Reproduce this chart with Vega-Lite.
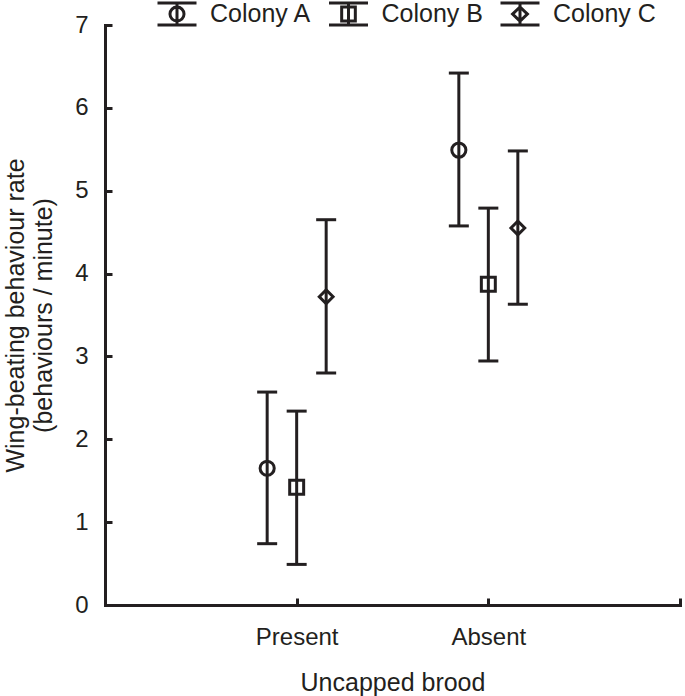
{
  "$schema": "https://vega.github.io/schema/vega-lite/v6.json",
  "width": 575,
  "height": 580,
  "autosize": {"type": "none"},
  "padding": {"left": 105, "top": 25, "right": 5, "bottom": 91},
  "background": "white",
  "data": {
    "values": [
      {"brood": "Present", "colony": "Colony A", "mean": 1.65, "lower": 0.74, "upper": 2.57},
      {"brood": "Present", "colony": "Colony B", "mean": 1.42, "lower": 0.49, "upper": 2.34},
      {"brood": "Present", "colony": "Colony C", "mean": 3.72, "lower": 2.80, "upper": 4.65},
      {"brood": "Absent", "colony": "Colony A", "mean": 5.49, "lower": 4.575, "upper": 6.42},
      {"brood": "Absent", "colony": "Colony B", "mean": 3.87, "lower": 2.945, "upper": 4.79},
      {"brood": "Absent", "colony": "Colony C", "mean": 4.55, "lower": 3.63, "upper": 5.48}
    ]
  },
  "encoding": {
    "x": {
      "field": "brood",
      "type": "nominal",
      "scale": {"type": "point", "domain": ["_s", "Present", "Absent", "_e"], "padding": 0},
      "title": "Uncapped brood",
      "axis": {
        "labelExpr": "datum.value[0] == '_' ? '' : datum.label",
        "labelAngle": 0,
        "labelPadding": 27,
        "titlePadding": 21
      }
    },
    "xOffset": {
      "field": "colony",
      "type": "nominal",
      "scale": {"type": "point", "domain": ["Colony A", "Colony B", "Colony C"], "range": [-29.5, 29.5], "padding": 0}
    }
  },
  "layer": [
    {
      "mark": {"type": "rule", "color": "#231f20", "strokeWidth": 3},
      "encoding": {
        "y": {
          "field": "lower",
          "type": "quantitative",
          "scale": {"domain": [0, 7], "nice": false, "zero": true},
          "title": ["Wing-beating behaviour rate", "(behaviours / minute)"],
          "axis": {"values": [0, 1, 2, 3, 4, 5, 6, 7], "format": "d", "labelPadding": 24, "titlePadding": 18, "titleLineHeight": 28}
        },
        "y2": {"field": "upper"}
      }
    },
    {
      "mark": {"type": "tick", "orient": "horizontal", "size": 20, "thickness": 3, "color": "#231f20", "opacity": 1},
      "encoding": {
        "y": {"field": "upper", "type": "quantitative", "title": ["Wing-beating behaviour rate", "(behaviours / minute)"]}
      }
    },
    {
      "mark": {"type": "tick", "orient": "horizontal", "size": 20, "thickness": 3, "color": "#231f20", "opacity": 1},
      "encoding": {
        "y": {"field": "lower", "type": "quantitative", "title": ["Wing-beating behaviour rate", "(behaviours / minute)"]}
      }
    },
    {
      "mark": {"type": "point", "filled": false, "stroke": "#231f20", "strokeWidth": 3, "opacity": 1},
      "encoding": {
        "y": {"field": "mean", "type": "quantitative", "title": ["Wing-beating behaviour rate", "(behaviours / minute)"]},
        "shape": {
          "field": "colony",
          "type": "nominal",
          "scale": {"domain": ["Colony A", "Colony B", "Colony C"], "range": ["circle", "square", "diamond"]},
          "legend": null
        },
        "size": {
          "field": "colony",
          "type": "ordinal",
          "scale": {"domain": ["Colony A", "Colony B", "Colony C"], "range": [200, 190, 235]},
          "legend": null
        }
      }
    },
    {
      "transform": [{"filter": "false"}],
      "mark": {"type": "point", "filled": false, "stroke": "#231f20", "strokeWidth": 3, "size": 1521, "opacity": 1},
      "encoding": {
        "y": {"field": "mean", "type": "quantitative", "title": ["Wing-beating behaviour rate", "(behaviours / minute)"]},
        "shape": {
          "field": "colony",
          "type": "nominal",
          "scale": {
            "domain": ["Colony A", "Colony B", "Colony C"],
            "range": [
              "M-1,-0.56L1,-0.56M-1,0.56L1,0.56M0,-0.56L0,0.56M0.36,0A0.36,0.36,0,1,1,-0.36,0A0.36,0.36,0,1,1,0.36,0Z",
              "M-1,-0.56L1,-0.56M-1,0.56L1,0.56M0,-0.56L0,0.56M-0.35,-0.36L0.35,-0.36L0.35,0.36L-0.35,0.36Z",
              "M-1,-0.56L1,-0.56M-1,0.56L1,0.56M0,-0.56L0,0.56M0,-0.36L0.38,0L0,0.36L-0.38,0Z"
            ]
          },
          "legend": {
            "orient": "none",
            "legendX": 51,
            "legendY": -32,
            "direction": "horizontal",
            "columns": 3,
            "title": null,
            "labelFont": "Liberation Sans",
            "labelFontSize": 25,
            "labelColor": "#231f20",
            "labelOffset": 12,
            "columnPadding": 10.5,
            "symbolSize": 1521,
            "symbolStrokeWidth": 3,
            "symbolStrokeColor": "#231f20",
            "symbolFillColor": "transparent",
            "symbolOpacity": 1
          }
        }
      }
    }
  ],
  "resolve": {"scale": {"shape": "independent"}},
  "config": {
    "view": {"stroke": null},
    "axis": {
      "grid": false,
      "domainColor": "#231f20",
      "domainWidth": 3,
      "domainCap": "square",
      "tickColor": "#231f20",
      "tickWidth": 3,
      "tickSize": -7,
      "labelFont": "Liberation Sans",
      "labelFontSize": 24,
      "labelColor": "#231f20",
      "titleFont": "Liberation Sans",
      "titleFontSize": 25,
      "titleFontWeight": "normal",
      "titleColor": "#231f20"
    }
  }
}
